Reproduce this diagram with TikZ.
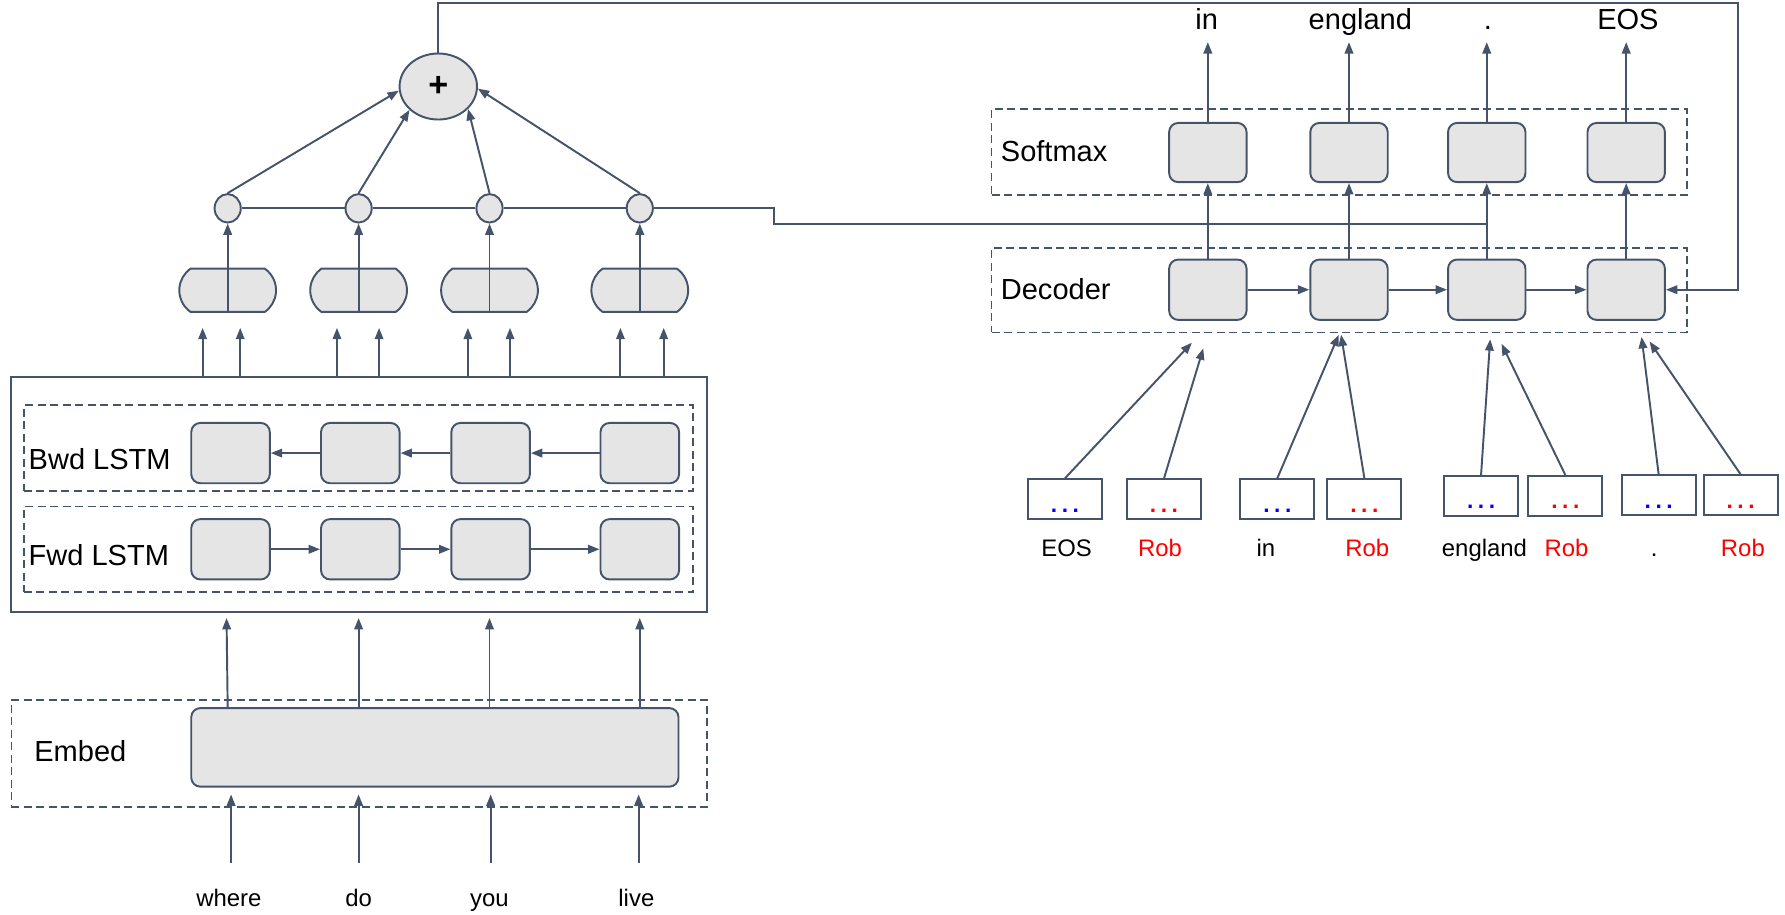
\documentclass[tikz,border=0pt]{standalone}
\usepackage{fontspec}
\setmainfont{Liberation Sans}
\usetikzlibrary{arrows.meta,shapes.misc,shapes.geometric}
\definecolor{lnc}{HTML}{45546A}
\definecolor{bxc}{HTML}{E5E5E5}
\begin{document}
\begin{tikzpicture}[x=1pt,y=-1pt,
  ln/.style={draw=lnc, line width=1.7pt},
  arr/.style={ln, -{Triangle[length=10pt,width=7.5pt]}},
  cell/.style={ln, fill=bxc, rounded corners=8pt, minimum width=69pt, minimum height=53pt, inner sep=0pt},
  grp/.style 2 args={draw=lnc, line width=1.5pt, dash pattern=on 7pt off 4pt, minimum width=#1, minimum height=#2, inner sep=0pt},
  solidgrp/.style 2 args={draw=lnc, line width=1.7pt, minimum width=#1, minimum height=#2, inner sep=0pt},
  lab/.style={anchor=base west, inner sep=0pt, font=\fontsize{25.5}{30}\selectfont},
  word/.style={anchor=base, inner sep=0pt, font=\fontsize{21}{25}\selectfont},
  outw/.style={anchor=base, inner sep=0pt, font=\fontsize{25.5}{30}\selectfont},
  pill/.style={ln, fill=bxc, rounded rectangle, rounded rectangle arc length=110, minimum width=85pt, minimum height=38pt, inner sep=0pt},
  dotc/.style={ln, fill=bxc, ellipse, minimum width=23pt, minimum height=25pt, inner sep=0pt},
  inbox/.style={ln, fill=white, minimum width=65pt, minimum height=35pt, inner sep=0pt, text height=23pt, text depth=0pt, font=\bfseries\fontsize{20}{22}\selectfont},
]
\useasboundingbox (0,0) rectangle (1568,803);

% ---------------- left: encoder ----------------
\node[solidgrp={611pt}{207pt}] (outer) at (315.5,434.5) {};
\node[grp={588pt}{75pt}] (bwdg) at (315,393.5) {};
\node[grp={588pt}{75pt}] (fwdg) at (315,482.5) {};
\node[grp={611pt}{94pt}] (embg) at (315.5,662) {};
\node[lab] (bwdl) at (25,412) {Bwd LSTM};
\node[lab] (fwdl) at (25,497) {Fwd LSTM};
\node[lab] (embl) at (30,669) {Embed};

\foreach \i/\x in {1/202.5,2/316.5,3/431,4/562}{
  \node[cell] (b\i) at (\x,398) {};
  \node[cell] (f\i) at (\x,482.5) {};
}
\draw[arr] (b2) -- (b1);
\draw[arr] (b3) -- (b2);
\draw[arr] (b4) -- (b3);
\draw[arr] (f1) -- (f2);
\draw[arr] (f2) -- (f3);
\draw[arr] (f3) -- (f4);

\node[cell, minimum width=428pt, minimum height=69pt] (emb) at (382,656.5) {};

% words
\node[word] (w1) at (201,796) {where};
\node[word] (w2) at (315,796) {do};
\node[word] (w3) at (430,796) {you};
\node[word] (w4) at (559,796) {live};
\draw[arr] (203,758) -- ([yshift=-6pt]emb.south -| 203,0);
\draw[arr] (315,758) -- ([yshift=-6pt]emb.south -| 315,0);
\draw[arr] (431,758) -- ([yshift=-6pt]emb.south -| 431,0);
\draw[arr] (561,758) -- ([yshift=-6pt]emb.south -| 561,0);

% embed -> encoder
\draw[arr] (emb.north -| 200,0) -- ([yshift=-4pt]outer.south -| 199,0);
\draw[arr] (emb.north -| 315,0) -- ([yshift=-4pt]outer.south -| 315,0);
\draw[arr] (emb.north -| 430,0) -- ([yshift=-4pt]outer.south -| 430,0);
\draw[arr] (emb.north -| 562,0) -- ([yshift=-4pt]outer.south -| 562,0);

% pills and small circles
\foreach \i/\x in {1/200,2/315,3/430,4/562}{
  \node[pill] (p\i) at (\x,255) {};
  \node[dotc] (c\i) at (\x,183) {};
  \draw[arr] (p\i.south) -- (c\i);
}
\foreach \x in {178,211,296,333,411,448,545,583}{
  \draw[arr] (outer.north -| \x,0) -- (\x,288);
}

% plus
\node[ln, fill=bxc, ellipse, minimum width=68pt, minimum height=58pt, inner sep=0pt, font=\bfseries\fontsize{30}{32}\selectfont] (plus) at (385,76) {+};
\draw[arr] (c1.north) -- (plus.186);
\draw[arr] (c2.north) -- (plus.-141);
\draw[arr] (c3.north) -- (plus.-37);
\draw[arr] (c4.north) -- (plus.-3);

% ---------------- right: decoder ----------------
\node[grp={611pt}{75pt}] (smg) at (1176.5,133.5) {};
\node[grp={611pt}{74pt}] (dcg) at (1176.5,255) {};
\node[lab] (sml) at (879,142) {Softmax};
\node[lab] (dcl) at (879,263) {Decoder};

\foreach \i/\x in {1/1061,2/1185,3/1306,4/1428.5}{
  \node[cell, minimum width=68pt, minimum height=52pt] (s\i) at (\x,134) {};
  \node[cell, minimum width=68pt, minimum height=53pt] (d\i) at (\x,254.5) {};
  \draw[arr] (d\i.north) -- (s\i.south);
  \coordinate (o\i) at (\x,37);
  \draw[arr] (s\i.north) -- (o\i);
}
\draw[arr] (d1) -- (d2);
\draw[arr] (d2) -- (d3);
\draw[arr] (d3) -- (d4);

\node[outw] (ow1) at (1060,26) {in};
\node[outw] (ow2) at (1195,26) {england};
\node[outw] (ow3) at (1307,26) {.};
\node[outw] (ow4) at (1430,26) {EOS};

% context line from circles to decoder column
\coordinate (bend) at (680,183);
\draw[ln] (c1) -- (c2);
\draw[ln] (c2) -- (c3);
\draw[ln] (c3) -- (c4);
\draw[ln] (c4) -- (bend) |- (s3.south |- 0,197);

% feedback line from plus to last decoder cell
\coordinate (fbk) at (1527,3);
\draw[arr] (plus.north) |- (fbk) |- (d4.east);

% input boxes
\node[inbox] (i1b) at (935.5,438.5) {\color{blue}.\hspace{4pt}.\hspace{4pt}.};
\node[inbox] (i1r) at (1022.5,438.5) {\color{red}.\hspace{4pt}.\hspace{4pt}.};
\node[inbox] (i2b) at (1122,438.5) {\color{blue}.\hspace{4pt}.\hspace{4pt}.};
\node[inbox] (i2r) at (1198.5,438.5) {\color{red}.\hspace{4pt}.\hspace{4pt}.};
\node[inbox] (i3b) at (1301,435.5) {\color{blue}.\hspace{4pt}.\hspace{4pt}.};
\node[inbox] (i3r) at (1375,435.5) {\color{red}.\hspace{4pt}.\hspace{4pt}.};
\node[inbox] (i4b) at (1457,435) {\color{blue}.\hspace{4pt}.\hspace{4pt}.};
\node[inbox] (i4r) at (1529,435) {\color{red}.\hspace{4pt}.\hspace{4pt}.};

\node[word] (l1b) at (937,489) {EOS};
\node[word, text=red] (l1r) at (1019,489) {Rob};
\node[word] (l2b) at (1112,489) {in};
\node[word, text=red] (l2r) at (1201,489) {Rob};
\node[word] (l3b) at (1304,489) {england};
\node[word, text=red] (l3r) at (1376,489) {Rob};
\node[word] (l4b) at (1453,489) {.};
\node[word, text=red] (l4r) at (1531,489) {Rob};

\coordinate (t1b) at (1047,301);
\coordinate (t1r) at (1057,306);
\coordinate (t2b) at (1176,294);
\coordinate (t2r) at (1178,294);
\coordinate (t3b) at (1309,298);
\coordinate (t3r) at (1319,302);
\coordinate (t4b) at (1442,296);
\coordinate (t4r) at (1449,300);
\draw[arr] (i1b.north) -- (t1b);
\draw[arr] (i1r.north) -- (t1r);
\draw[arr] (i2b.north) -- (t2b);
\draw[arr] (i2r.north) -- (t2r);
\draw[arr] (i3b.north) -- (t3b);
\draw[arr] (i3r.north) -- (t3r);
\draw[arr] (i4b.north) -- (t4b);
\draw[arr] (i4r.north) -- (t4r);
\end{tikzpicture}
\end{document}
